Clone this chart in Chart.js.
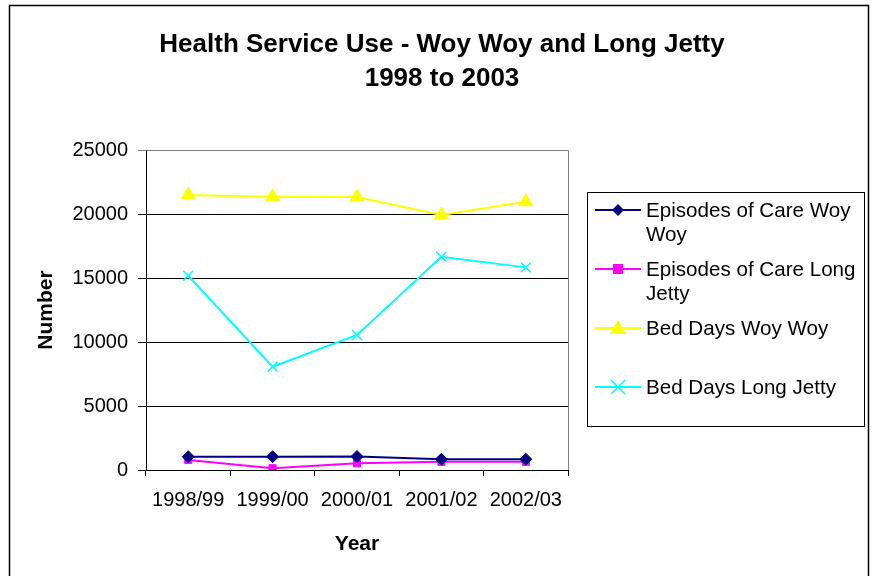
<!DOCTYPE html>
<html>
<head>
<meta charset="utf-8">
<script src="https://cdn.jsdelivr.net/npm/chart.js@4/dist/chart.umd.min.js"></script>
<style>
  html, body { margin: 0; padding: 0; background: #ffffff; }
  #wrap { width: 872px; height: 576px; }
</style>
</head>
<body>
<div id="wrap"><canvas id="c" width="872" height="576"></canvas></div>
<script>
const titleLines = ['Health Service Use - Woy Woy and Long Jetty', '1998 to 2003'];
const categories = ['1998/99', '1999/00', '2000/01', '2001/02', '2002/03'];
const episodesWoyWoy = [1040, 1040, 1050, 840, 840];
const episodesLongJetty = [790, 140, 530, 640, 640];
const bedDaysWoyWoy = [21480, 21350, 21330, 19920, 20960];
const bedDaysLongJetty = [15180, 8070, 10550, 16660, 15830];
const seriesNames = ['Episodes of Care Woy Woy', 'Episodes of Care Long Jetty', 'Bed Days Woy Woy', 'Bed Days Long Jetty'];
const legendLines = [['Episodes of Care Woy', 'Woy'], ['Episodes of Care Long', 'Jetty'], ['Bed Days Woy Woy'], ['Bed Days Long Jetty']];
const yMax = 25000, yStep = 5000;

const FONT = "'Liberation Sans', Arial, sans-serif";

function drawMarker(ctx, style, x, y, r, color) {
  ctx.save();
  ctx.fillStyle = color; ctx.strokeStyle = color;
  ctx.beginPath();
  if (style === 'rectRot') {
    ctx.moveTo(x, y - r); ctx.lineTo(x + r, y); ctx.lineTo(x, y + r); ctx.lineTo(x - r, y); ctx.closePath(); ctx.fill();
  } else if (style === 'rect') {
    ctx.fillRect(x - r, y - r, 2 * r, 2 * r);
  } else if (style === 'triangle') {
    ctx.moveTo(x, y - r); ctx.lineTo(x + r, y + r * 0.75); ctx.lineTo(x - r, y + r * 0.75); ctx.closePath(); ctx.fill();
  } else if (style === 'crossRot') {
    ctx.lineWidth = 1.5;
    ctx.moveTo(x - r, y - r); ctx.lineTo(x + r, y + r); ctx.moveTo(x + r, y - r); ctx.lineTo(x - r, y + r); ctx.stroke();
  }
  ctx.restore();
}

const decorPlugin = {
  id: 'decor',
  beforeDraw(chart) {
    const ctx = chart.ctx;
    ctx.save();
    ctx.fillStyle = '#ffffff';
    ctx.fillRect(0, 0, chart.width, chart.height);
    ctx.strokeStyle = '#000000';
    ctx.lineWidth = 1.5;
    ctx.strokeRect(9.5, 5.5, 859, 620);
    ctx.restore();
  },
  beforeDatasetsDraw(chart) {
    const ctx = chart.ctx, a = chart.chartArea;
    ctx.save();
    ctx.strokeStyle = '#808080';
    ctx.lineWidth = 1;
    ctx.beginPath();
    ctx.moveTo(Math.round(a.left) + 0.5, Math.round(a.top) + 0.5);
    ctx.lineTo(Math.round(a.right) + 0.5, Math.round(a.top) + 0.5);
    ctx.lineTo(Math.round(a.right) + 0.5, Math.round(a.bottom));
    ctx.stroke();
    ctx.restore();
  },
  afterDraw(chart) {
    const ctx = chart.ctx;
    ctx.save();
    // title
    ctx.fillStyle = '#000000';
    ctx.textAlign = 'center';
    ctx.textBaseline = 'alphabetic';
    ctx.font = 'bold 26px ' + FONT;
    ctx.fillText(titleLines[0], 442, 52);
    ctx.fillText(titleLines[1], 442, 86);
    // legend
    ctx.strokeStyle = '#000000';
    ctx.lineWidth = 1;
    ctx.strokeRect(587.5, 192.5, 277, 234);
    const itemY = [210, 269, 328, 387];
    ctx.textAlign = 'left';
    ctx.font = '20.6px ' + FONT;
    chart.data.datasets.forEach((ds, i) => {
      const y = itemY[i];
      ctx.save();
      ctx.strokeStyle = ds.borderColor;
      ctx.lineWidth = 2;
      ctx.beginPath();
      ctx.moveTo(595, y); ctx.lineTo(641, y);
      ctx.stroke();
      ctx.restore();
      drawMarker(ctx, ds.pointStyle, 618, y, ds.pointRadius, ds.borderColor);
      ctx.fillStyle = '#000000';
      legendLines[i].forEach((ln, k) => {
        ctx.fillText(ln, 646, y + 7 + k * 23.5);
      });
    });
    ctx.restore();
  }
};

new Chart(document.getElementById('c'), {
  type: 'line',
  data: {
    labels: categories,
    datasets: [
      { label: seriesNames[0], data: episodesWoyWoy, borderColor: '#000080', backgroundColor: '#000080', pointStyle: 'rectRot', pointRadius: 6, pointBorderWidth: 1, borderWidth: 2, tension: 0 },
      { label: seriesNames[1], data: episodesLongJetty, borderColor: '#FF00FF', backgroundColor: '#FF00FF', pointStyle: 'rect', pointRadius: 5, pointBorderWidth: 1, borderWidth: 2, tension: 0 },
      { label: seriesNames[2], data: bedDaysWoyWoy, borderColor: '#FFFF00', backgroundColor: '#FFFF00', pointStyle: 'triangle', pointRadius: 8, pointBorderWidth: 1, borderWidth: 2, tension: 0 },
      { label: seriesNames[3], data: bedDaysLongJetty, borderColor: '#00FFFF', backgroundColor: '#00FFFF', pointStyle: 'crossRot', pointRadius: 7, pointBorderWidth: 1.5, borderWidth: 2, tension: 0 }
    ]
  },
  options: {
    responsive: false,
    animation: false,
    layout: { padding: { left: 10, right: 304, top: 150, bottom: 0 } },
    plugins: { legend: { display: false }, title: { display: false }, tooltip: { enabled: false } },
    scales: {
      x: {
        type: 'category',
        offset: true,
        grid: { offset: true, drawOnChartArea: false, drawTicks: true, tickLength: 6, color: '#000000' },
        border: { display: true, color: '#000000', width: 1 },
        ticks: { font: { size: 20, family: FONT }, color: '#000000', padding: 12, maxRotation: 0, autoSkip: false },
        title: { display: true, text: 'Year', color: '#000000', font: { size: 21, weight: 'bold', family: FONT }, padding: { top: 0, bottom: 19 } },
        afterFit(s) { s.height = 106; }
      },
      y: {
        min: 0, max: yMax,
        ticks: { stepSize: yStep, font: { size: 20, family: FONT }, color: '#000000', padding: 10, callback: v => String(v) },
        grid: { color: c => (c.tick && c.tick.value === yMax) ? '#808080' : '#000000', tickLength: 8, lineWidth: 1 },
        border: { display: true, color: '#000000', width: 1 },
        title: { display: true, text: 'Number', color: '#000000', font: { size: 21, weight: 'bold', family: FONT }, padding: { top: 24, bottom: 0 } },
        afterFit(s) { s.width = 136; }
      }
    }
  },
  plugins: [decorPlugin]
});
</script>
</body>
</html>
